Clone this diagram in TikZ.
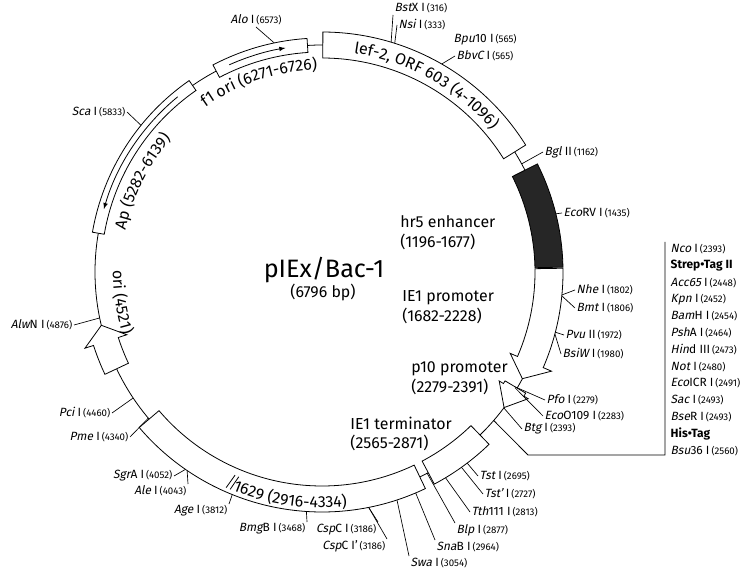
\documentclass[tikz,border=0pt]{standalone}
\usepackage{fontspec}
\setmainfont{Fira Sans}[ItalicFont={Fira Sans}, ItalicFeatures={FakeSlant=0.2}]
\usetikzlibrary{arrows,calc,decorations.text}
\def\K{0.052973}
\newcommand{\enz}[3]{\textit{#1}#2\,{\fontsize{7.3}{8}\selectfont(#3)}}
\newcommand{\curvefont}{\fontsize{12}{14}\selectfont}
% arc box: style, from, to, inner, outer
\newcommand{\featbox}[5][]{\draw[#1] ($(c)+({90-\K*(#2)}:#4)$) arc[start angle={90-\K*(#2)}, end angle={90-\K*(#3)}, radius=#4] -- ($(c)+({90-\K*(#3)}:#5)$) arc[start angle={90-\K*(#3)}, end angle={90-\K*(#2)}, radius=#5] -- cycle;}
% arc arrow: from, head, to, inner, outer, barb in, barb out
\newcommand{\featarrow}[7]{\draw[fill=white] ($(c)+({90-\K*(#1)}:#5)$) arc[start angle={90-\K*(#1)}, end angle={90-\K*(#2)}, radius=#5] -- ($(c)+({90-\K*(#2)}:#7)$) -- ($(c)+({90-\K*(#3)}:227)$) -- ($(c)+({90-\K*(#2)}:#6)$) -- ($(c)+({90-\K*(#2)}:#4)$) arc[start angle={90-\K*(#2)}, end angle={90-\K*(#1)}, radius=#4] -- cycle;}
% curved label: from, to, radius, text
\newcommand{\curvelab}[4]{\path[decorate, decoration={text along path, text align=center, text={|\curvefont|#4}}] ($(c)+({90-\K*(#1)}:#3)$) arc[start angle={90-\K*(#1)}, end angle={90-\K*(#2)}, radius=#3];}
% site: name, bp, radius, x, y, anchor, label
\newcommand{\site}[7]{\coordinate (#1) at ($(c)+({90-\K*(#2)}:#3)$);
  \coordinate (#1end) at (#4,#5);
  \node[enzlab, anchor=#6] (#1lab) at (#1end) {#7};
  \draw[leader] (#1) -- (#1end);}
\tikzset{
  enzlab/.style={font=\fontsize{9}{11}\selectfont, inner sep=1pt},
  featlab/.style={font=\fontsize{12}{15}\selectfont, align=left, inner sep=0pt},
  leader/.style={line width=0.5pt}
}
\begin{document}
\begin{tikzpicture}[x=0.0265cm, y=0.0265cm, line width=0.6pt]
\useasboundingbox (0,0) rectangle (756,569);
\coordinate (c) at (322,297);

% backbone
\draw (c) circle[radius=227];

% features
\featbox[fill=white]{4}{1096}{214}{240}
\featbox[fill=black!85]{1196}{1677}{213}{241}
\featarrow{1682}{2140}{2228}{213}{241}{205}{250}
\featarrow{2279}{2295}{2391}{213}{237}{208}{242}
\featbox[fill=white]{2565}{2871}{214}{240}
\featbox[fill=white]{2916}{4334}{214}{240}
\featarrow{4620}{4760}{4840}{214}{240}{205}{249}
\featbox[fill=white]{5282}{6139}{221}{233}
\featbox[fill=white]{6271}{6726}{220}{234}
\draw[-latex] ($(c)+({90-\K*6050}:227)$) arc[start angle={90-\K*6050}, end angle={90-\K*5400}, radius=227];
\draw[-latex] ($(c)+({90-\K*6340}:227)$) arc[start angle={90-\K*6340}, end angle={90-\K*6620}, radius=227];
% break mark
\draw ($(c)+({90-\K*3815}:221)$) -- ($(c)+({90-\K*3830}:236)$);
\draw ($(c)+({90-\K*3835}:221)$) -- ($(c)+({90-\K*3850}:236)$);

% curved labels
\curvelab{4}{1096}{221}{lef-2, ORF 603 (4-1096)}
\curvelab{6000}{6900}{202}{f1 ori (6271-6726)}
\curvelab{5200}{6000}{201}{Ap (5282-6139)}
\curvelab{5250}{4620}{209}{ori (4521)}
\curvelab{3950}{3150}{236}{1629 (2916-4334)}

% titles
\node[font=\fontsize{19}{22}\selectfont] (title) at (324,299) {pIEx/Bac-1};
\node[font=\fontsize{12}{14}\selectfont] (bpsize) at (323,277) {(6796 bp)};
\node[featlab, anchor=west] (hr5) at (400,336) {hr5 enhancer\\(1196-1677)};
\node[featlab, anchor=west] (ie1p) at (402,262) {IE1 promoter\\(1682-2228)};
\node[featlab, anchor=west] (p10) at (411,191) {p10 promoter\\(2279-2391)};
\node[featlab, anchor=west] (ie1t) at (350,135) {IE1 terminator\\(2565-2871)};

% sites
\site{bstx}{316}{240}{393}{554}{south west}{\enz{Bst}{X I}{316}}
\site{nsi}{333}{240}{397}{544}{west}{\enz{Nsi}{ I}{333}}
\node[enzlab, anchor=west] (bpulab) at (452,529) {\enz{Bpu}{10 I}{565}};
\site{bbvc}{565}{240}{455}{513}{west}{\enz{BbvC}{ I}{565}}
\site{bgl}{1162}{227}{543}{417}{west}{\enz{Bgl}{ II}{1162}}
\site{ecorv}{1435}{241}{562}{356}{west}{\enz{Eco}{RV I}{1435}}
\site{nhe}{1802}{241}{575}{279}{west}{\enz{Nhe}{ I}{1802}}
\site{bmt}{1806}{241}{575}{261}{west}{\enz{Bmt}{ I}{1806}}
\site{pvu}{1972}{241}{564}{234}{west}{\enz{Pvu}{ II}{1972}}
\site{bsiw}{1980}{241}{561}{215}{west}{\enz{BsiW}{ I}{1980}}
\site{pfo}{2279}{225}{545}{169}{west}{\enz{Pfo}{ I}{2279}}
\site{eco}{2283}{225}{543}{153}{west}{\enz{Eco}{O109 I}{2283}}
\site{btg}{2393}{227}{522}{140}{west}{\enz{Btg}{ I}{2393}}
\site{tst}{2695}{240}{478}{93}{west}{\enz{Tst}{ I}{2695}}
\site{tstp}{2727}{240}{483}{75}{west}{\enz{Tst'}{ I}{2727}}
\site{tth}{2813}{240}{470}{57}{west}{\enz{Tth}{111 I}{2813}}
\site{blp}{2877}{227}{455}{46}{north west}{\enz{Blp}{ I}{2877}}
\site{snab}{2964}{240}{435}{29}{north west}{\enz{Sna}{B I}{2964}}
\site{swa}{3054}{240}{409}{13}{north west}{\enz{Swa}{ I}{3054}}
\site{cspc}{3186}{240}{378}{47}{north east}{\enz{Csp}{C I}{3186}}
\site{cspcp}{3186}{240}{387}{30}{north east}{\enz{Csp}{C I'}{3186}}
\site{bmgb}{3468}{240}{307}{47}{north east}{\enz{Bmg}{B I}{3468}}
\site{age}{3812}{240}{229}{65}{north east}{\enz{Age}{ I}{3812}}
\site{ale}{4043}{240}{188}{85}{north east}{\enz{Ale}{ I}{4043}}
\site{sgra}{4052}{240}{174}{93}{east}{\enz{Sgr}{A I}{4052}}
\site{pme}{4340}{227}{130}{132}{east}{\enz{Pme}{ I}{4340}}
\site{pci}{4460}{227}{112}{156}{east}{\enz{Pci}{ I}{4460}}
\site{alwn}{4876}{227}{74}{244}{east}{\enz{Alw}{N I}{4876}}
\site{sca}{5833}{233}{127}{457}{east}{\enz{Sca}{ I}{5833}}
\site{alo}{6573}{234}{256}{542}{south}{\enz{Alo}{ I}{6573}}

% multiple cloning site
\coordinate (mcs) at ($(c)+({90-\K*2470}:227)$);
\coordinate (b1) at (528,114);
\coordinate (b2) at (665,114);
\coordinate (b3) at (665,327);
\draw (mcs) -- (b1) -- (b2) -- (b3);
\foreach \t [count=\i from 0] in {\enz{Nco}{ I}{2393}, \textbf{Strep•Tag II},
  \enz{Acc65}{ I}{2448}, \enz{Kpn}{ I}{2452}, \enz{Bam}{H I}{2454},
  \enz{Psh}{A I}{2464}, \enz{Hin}{d III}{2473}, \enz{Not}{ I}{2480},
  \enz{Eco}{ICR I}{2491}, \enz{Sac}{ I}{2493}, \enz{Bse}{R I}{2493},
  \textbf{His•Tag}, \enz{Bsu}{36 I}{2560}}
  \node[enzlab, anchor=west] (mcs\i) at (669,{320-16.8*\i}) {\t};
\end{tikzpicture}
\end{document}
